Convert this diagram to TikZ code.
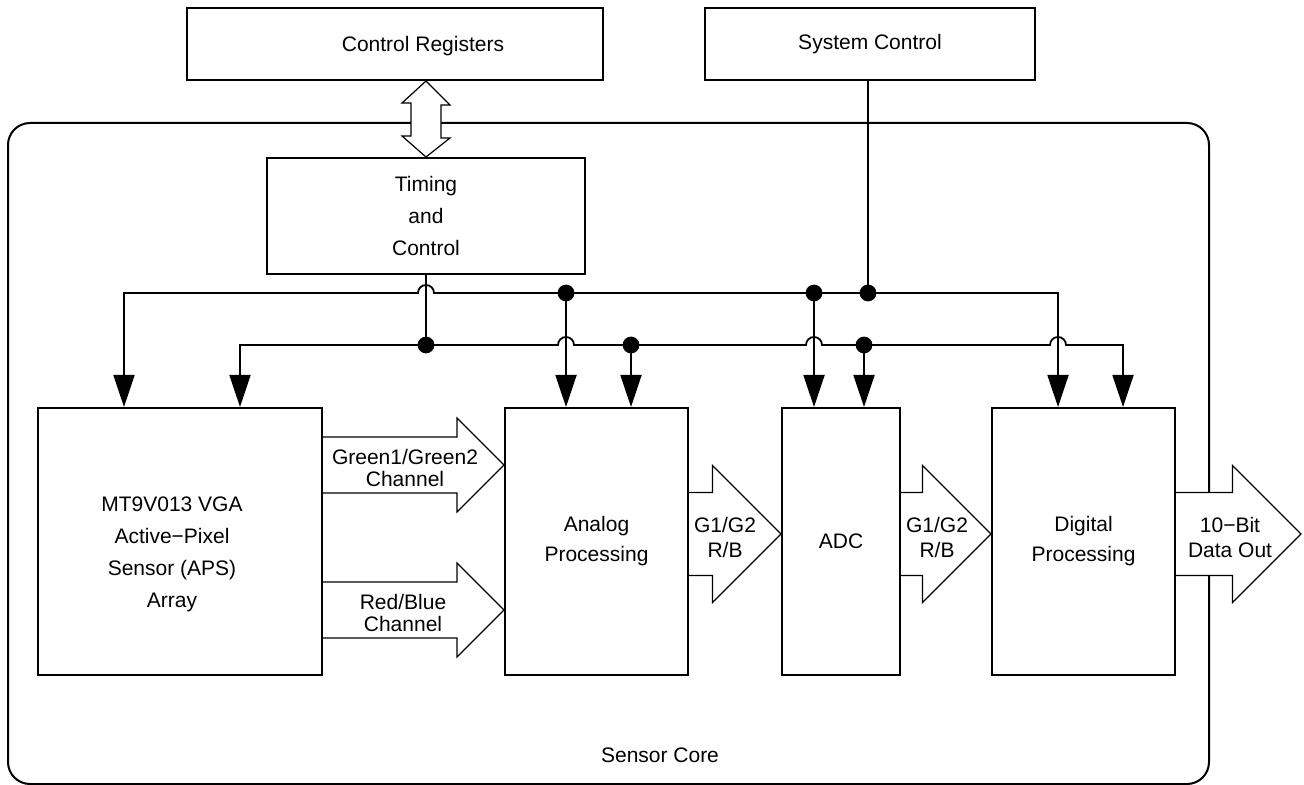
\documentclass[tikz,border=0pt]{standalone}
\usepackage{fontspec}
\setmainfont{Liberation Sans}
\usetikzlibrary{arrows.meta,calc,positioning}
\pgfdeclarelayer{back}
\pgfdeclarelayer{fat}
\pgfsetlayers{back,fat,main}

% wide outlined arrow from a box edge (#1) to a tip (#2), shaft and head half heights
\newcommand{\fatarrow}[4]{%
  \draw[fat] ($(#1 |- #2)+(0,-#3)$) -- ($(#2)+(-#4,-#3)$) -- ($(#2)+(-#4,-#4)$) -- (#2)
    -- ($(#2)+(-#4,#4)$) -- ($(#2)+(-#4,#3)$) -- ($(#1 |- #2)+(0,#3)$);
}

\begin{document}
\begin{tikzpicture}[x=0.5pt, y=-0.5pt, font=\fontsize{10.5}{15}\selectfont,
    >={Triangle[length=16pt, width=10.5pt]}]
    \tikzstyle{box} = [rectangle, draw, line width=1pt, align=center, inner sep=0pt]
    \tikzstyle{core} = [rectangle, draw, line width=1pt, rounded corners=11pt]
    \tikzstyle{wire} = [draw, line width=0.9pt]
    \tikzstyle{fat} = [draw, fill=white, line width=0.6pt, line join=miter]
    \tikzstyle{lbl} = [align=center, font=\fontsize{10.5}{11}\selectfont]
    \tikzstyle{lblb} = [align=center, font=\fontsize{10.5}{12.5}\selectfont]

    \useasboundingbox (0,0) rectangle (1304,785);

    % Sensor core frame
    \begin{pgfonlayer}{back}
    \node[core, minimum width=600.5pt, minimum height=330.5pt] (core) at (608.5,453.5) {};
    \end{pgfonlayer}
    \node (corelbl) at (660,755) {Sensor Core};

    % Top blocks
    \node[box, minimum width=208pt, minimum height=36pt] (reg) at (395,44) {};
    \node (regtext) at (423,46) {Control Registers};
    \node[box, minimum width=165pt, minimum height=36pt] (sys) at (870,44) {System Control};
    \node[box, minimum width=159pt, minimum height=58pt, font=\fontsize{10.5}{16}\selectfont] (tim) at (426,216) {Timing\\and\\Control};

    % Signal chain
    \node[box, minimum width=142pt, minimum height=133.5pt] (mt) at (180,541.5) {};
    \node[align=center, font=\fontsize{10.5}{16}\selectfont] (mttext) at (172,554) {MT9V013 VGA\\Active−Pixel\\Sensor (APS)\\Array};
    \node[box, minimum width=91.5pt, minimum height=133.5pt] (analog) at (596.5,541.5) {Analog\\Processing};
    \node[box, minimum width=59pt, minimum height=133.5pt] (adc) at (841,541.5) {ADC};
    \node[box, minimum width=91.5pt, minimum height=133.5pt] (digital) at (1083.5,541.5) {Digital\\Processing};

    % Tips of the wide arrows
    \coordinate (gtip) at (analog.west |- 0,465);
    \coordinate (rtip) at (analog.west |- 0,610);
    \coordinate (atip) at (adc.west |- 0,534);
    \coordinate (dtip) at (digital.west |- 0,534);
    \coordinate (out) at (1301,534);

    % Bus junctions
    \coordinate (j1) at (426,345);
    \coordinate (j2) at (566,293);
    \coordinate (j3) at (631,345);
    \coordinate (j4) at (814,293);
    \coordinate (j5) at (864,345);
    \coordinate (j6) at (868,293);

    % Wide arrows
    \begin{pgfonlayer}{fat}
    \draw[fat] (tim.north |- reg.south) -- ++(24,24) -- ++(-9,0) -- ++(0,33) -- ++(9,0) -- (tim.north)
        -- ++(-24,-21) -- ++(9,0) -- ++(0,-33) -- ++(-9,0) -- cycle;
    \fatarrow{mt.east}{gtip}{28}{47}
    \fatarrow{mt.east}{rtip}{28}{47}
    \fatarrow{analog.east}{atip}{41.5}{68.5}
    \fatarrow{adc.east}{dtip}{41.5}{68.5}
    \fatarrow{digital.east}{out}{41.5}{68.5}
    \end{pgfonlayer}

    % Arrow labels
    \node[lbl] (glbl) at (405,468) {Green1/Green2\\Channel};
    \node[lbl] (rlbl) at (403,613) {Red/Blue\\Channel};
    \node[lblb] (albl) at (725,537) {G1/G2\\R/B};
    \node[lblb] (dlbl) at (937,537) {G1/G2\\R/B};
    \node[lblb] (olbl) at (1230,537) {10−Bit\\Data Out};

    % Control buses
    \draw[wire, <->] (mt.north -| 124,0) |- (418,293) arc[start angle=180, end angle=0, radius=4pt]
        -| (digital.north -| 1058,0);
    \draw[wire, <->] (mt.north -| 240,0) |- (558,345) arc[start angle=180, end angle=0, radius=4pt]
        -- (806,345) arc[start angle=180, end angle=0, radius=4pt]
        -- (1050,345) arc[start angle=180, end angle=0, radius=4pt]
        -| (digital.north -| 1123,0);
    \draw[wire] (tim.south) -- (j1);
    \draw[wire] (sys.south -| j6) -- (j6);
    \draw[wire, ->] (j2) -- (analog.north -| j2);
    \draw[wire, ->] (j3) -- (analog.north -| j3);
    \draw[wire, ->] (j4) -- (adc.north -| j4);
    \draw[wire, ->] (j5) -- (adc.north -| j5);
    \fill (j1) circle[radius=4.2pt] (j2) circle[radius=4.2pt] (j3) circle[radius=4.2pt]
        (j4) circle[radius=4.2pt] (j5) circle[radius=4.2pt] (j6) circle[radius=4.2pt];
\end{tikzpicture}
\end{document}
